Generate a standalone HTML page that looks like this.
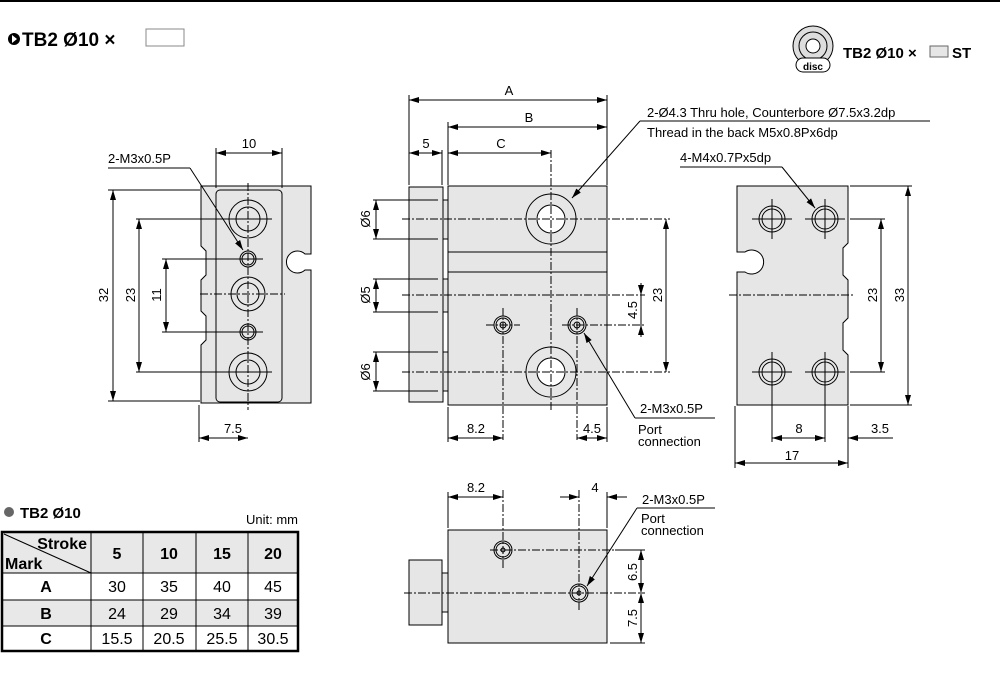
<!DOCTYPE html>
<html><head><meta charset="utf-8"><style>
body{margin:0;background:#fff;}
svg{display:block;font-family:"Liberation Sans",sans-serif;}
</style></head><body>
<svg width="1000" height="688" viewBox="0 0 1000 688" xmlns="http://www.w3.org/2000/svg">
<defs>
<marker id="a" viewBox="0 0 10 6" refX="10" refY="3" markerWidth="10" markerHeight="6" orient="auto-start-reverse" markerUnits="userSpaceOnUse"><path d="M0,0L10,3L0,6z" fill="#000"/></marker>
</defs>
<line x1="0" y1="1" x2="1000" y2="1" stroke="#000" stroke-width="2"/>
<!-- title -->
<circle cx="14" cy="39" r="6" fill="#000"/><path d="M12,35L17,39L12,43z" fill="#fff"/>
<text x="22" y="46" font-size="19" font-weight="bold">TB2 Ø10 ×</text>
<rect x="146" y="29" width="38" height="17" fill="#fff" stroke="#888"/>
<!-- logo -->
<g stroke="#000" fill="none">
<circle cx="813" cy="46" r="20" fill="#ddd"/><circle cx="813" cy="46" r="14"/><circle cx="813" cy="46" r="7" fill="#fff"/>
<rect x="796" y="58" width="34" height="14" rx="7" fill="#fff"/>
</g>
<text x="813" y="70" font-size="10" font-weight="bold" text-anchor="middle">disc</text>
<text x="843" y="58" font-size="15" font-weight="bold">TB2 Ø10 ×</text>
<rect x="930" y="46" width="18" height="11" fill="#e6e6e6" stroke="#666"/>
<text x="952" y="58" font-size="15" font-weight="bold">ST</text>

<g stroke="#000" stroke-width="1" fill="none" font-size="13">
<!-- LEFT VIEW -->
<path d="M201,186H311V254L305,254A11,11 0 1 0 305,270L311,270V403H201V345L206,340V316L201,311V280L206,275V251L201,246Z" fill="#e6e6e6"/>
<rect x="216" y="190" width="66" height="212" rx="4"/>
<g stroke-dasharray="8,2,2,2"><line x1="248" y1="183" x2="248" y2="410"/><line x1="200" y1="294" x2="285" y2="294"/></g>
<circle cx="248" cy="219" r="19"/><circle cx="248" cy="219" r="12"/>
<circle cx="248" cy="294" r="17"/><circle cx="248" cy="294" r="11"/>
<circle cx="248" cy="372" r="19"/><circle cx="248" cy="372" r="12"/>
<circle cx="248" cy="259" r="8"/><circle cx="248" cy="259" r="6"/>
<circle cx="248" cy="332" r="8"/><circle cx="248" cy="332" r="6"/>
<line x1="216" y1="148" x2="216" y2="188"/><line x1="282" y1="148" x2="282" y2="188"/>
<line x1="216" y1="153" x2="282" y2="153" marker-start="url(#a)" marker-end="url(#a)"/>
<line x1="108" y1="168" x2="190" y2="168"/><line x1="190" y1="168" x2="243" y2="250" marker-end="url(#a)"/>
<line x1="108" y1="190" x2="200" y2="190"/><line x1="108" y1="401" x2="200" y2="401"/>
<line x1="113" y1="190" x2="113" y2="401" marker-start="url(#a)" marker-end="url(#a)"/>
<line x1="136" y1="219" x2="272" y2="219"/><line x1="136" y1="372" x2="272" y2="372"/>
<line x1="139" y1="219" x2="139" y2="372" marker-start="url(#a)" marker-end="url(#a)"/>
<line x1="162" y1="259" x2="263" y2="259"/><line x1="162" y1="332" x2="263" y2="332"/>
<line x1="166" y1="259" x2="166" y2="332" marker-start="url(#a)" marker-end="url(#a)"/>
<line x1="199" y1="405" x2="199" y2="442"/>
<line x1="199" y1="438" x2="248" y2="438" marker-start="url(#a)" marker-end="url(#a)"/>

<!-- MIDDLE VIEW -->
<rect x="409" y="187" width="34" height="215" fill="#e6e6e6"/>
<rect x="443" y="200" width="5" height="39" fill="#e6e6e6"/><rect x="443" y="279" width="5" height="33" fill="#e6e6e6"/><rect x="443" y="352" width="5" height="39" fill="#e6e6e6"/>
<rect x="448" y="186" width="159" height="219" fill="#e6e6e6"/>
<line x1="448" y1="252" x2="607" y2="252"/><line x1="448" y1="272" x2="607" y2="272"/>
<circle cx="551" cy="219" r="25"/><circle cx="551" cy="219" r="14" fill="#fff"/>
<circle cx="551" cy="372" r="25"/><circle cx="551" cy="372" r="14" fill="#fff"/>
<circle cx="503" cy="325" r="9"/><circle cx="503" cy="325" r="7"/><circle cx="503" cy="325" r="3"/>
<circle cx="577" cy="325" r="9"/><circle cx="577" cy="325" r="7"/><circle cx="577" cy="325" r="3"/>
<g stroke-dasharray="8,2,2,2">
<line x1="402" y1="219" x2="670" y2="219"/><line x1="402" y1="295" x2="645" y2="295"/><line x1="402" y1="372" x2="670" y2="372"/>
<line x1="551" y1="150" x2="551" y2="410"/>
<line x1="486" y1="325" x2="520" y2="325"/><line x1="562" y1="325" x2="645" y2="325"/>
<line x1="503" y1="308" x2="503" y2="440"/><line x1="577" y1="308" x2="577" y2="440"/>
</g>
<line x1="373" y1="200" x2="438" y2="200"/><line x1="373" y1="239" x2="438" y2="239"/>
<line x1="376" y1="200" x2="376" y2="239" marker-start="url(#a)" marker-end="url(#a)"/>
<line x1="373" y1="279" x2="438" y2="279"/><line x1="373" y1="312" x2="438" y2="312"/>
<line x1="376" y1="279" x2="376" y2="312" marker-start="url(#a)" marker-end="url(#a)"/>
<line x1="373" y1="352" x2="438" y2="352"/><line x1="373" y1="391" x2="438" y2="391"/>
<line x1="376" y1="352" x2="376" y2="391" marker-start="url(#a)" marker-end="url(#a)"/>
<line x1="409" y1="95" x2="409" y2="185"/><line x1="607" y1="95" x2="607" y2="185"/>
<line x1="448" y1="122" x2="448" y2="185"/><line x1="442" y1="150" x2="442" y2="185"/>
<line x1="409" y1="100" x2="607" y2="100" marker-start="url(#a)" marker-end="url(#a)"/>
<line x1="448" y1="127" x2="607" y2="127" marker-start="url(#a)" marker-end="url(#a)"/>
<line x1="448" y1="153" x2="551" y2="153" marker-start="url(#a)" marker-end="url(#a)"/>
<line x1="409" y1="153" x2="442" y2="153" marker-start="url(#a)" marker-end="url(#a)"/>
<line x1="666" y1="219" x2="666" y2="372" marker-start="url(#a)" marker-end="url(#a)"/>
<line x1="641" y1="283" x2="641" y2="295" marker-end="url(#a)"/><line x1="641" y1="337" x2="641" y2="325" marker-end="url(#a)"/><line x1="641" y1="295" x2="641" y2="325"/>
<line x1="448" y1="407" x2="448" y2="442"/><line x1="607" y1="407" x2="607" y2="442"/>
<line x1="448" y1="438" x2="503" y2="438" marker-start="url(#a)" marker-end="url(#a)"/>
<line x1="577" y1="438" x2="607" y2="438" marker-start="url(#a)" marker-end="url(#a)"/>
<line x1="640" y1="121" x2="930" y2="121"/><line x1="640" y1="121" x2="572" y2="198" marker-end="url(#a)"/>
<line x1="635" y1="418" x2="715" y2="418"/><line x1="635" y1="418" x2="584" y2="333" marker-end="url(#a)"/>

<!-- RIGHT VIEW -->
<path d="M737,186H848V243L843,248V275L848,280V318L843,323V350L848,355V405H737V272L745,272A12,12 0 1 0 745,252L737,252Z" fill="#e6e6e6"/>
<line x1="729" y1="295" x2="855" y2="295" stroke-dasharray="8,2,2,2"/>
<g>
<circle cx="772" cy="219" r="13"/><circle cx="772" cy="219" r="10"/><circle cx="825" cy="219" r="13"/><circle cx="825" cy="219" r="10"/>
<circle cx="772" cy="372" r="13"/><circle cx="772" cy="372" r="10"/><circle cx="825" cy="372" r="13"/><circle cx="825" cy="372" r="10"/>
<path d="M752,219h40M772,199v40M805,219h40M825,199v40M752,372h40M772,352v40M805,372h40M825,352v40"/>
</g>
<line x1="850" y1="219" x2="885" y2="219"/><line x1="850" y1="372" x2="885" y2="372"/>
<line x1="881" y1="219" x2="881" y2="372" marker-start="url(#a)" marker-end="url(#a)"/>
<line x1="850" y1="186" x2="912" y2="186"/><line x1="850" y1="405" x2="912" y2="405"/>
<line x1="908" y1="186" x2="908" y2="405" marker-start="url(#a)" marker-end="url(#a)"/>
<line x1="772" y1="392" x2="772" y2="442"/><line x1="825" y1="392" x2="825" y2="442"/>
<line x1="735" y1="406" x2="735" y2="468"/><line x1="848" y1="406" x2="848" y2="468"/>
<line x1="772" y1="438" x2="825" y2="438" marker-start="url(#a)" marker-end="url(#a)"/>
<line x1="893" y1="438" x2="848" y2="438" marker-end="url(#a)"/>
<line x1="735" y1="463" x2="848" y2="463" marker-start="url(#a)" marker-end="url(#a)"/>
<line x1="680" y1="167" x2="782" y2="167"/><line x1="782" y1="167" x2="815" y2="208" marker-end="url(#a)"/>

<!-- BOTTOM VIEW -->
<rect x="409" y="560" width="33" height="65" fill="#e6e6e6"/>
<rect x="442" y="573" width="6" height="39" fill="#e6e6e6"/>
<rect x="448" y="530" width="159" height="113" fill="#e6e6e6"/>
<circle cx="503" cy="550" r="9"/><circle cx="503" cy="550" r="7"/><circle cx="503" cy="550" r="2"/>
<circle cx="579" cy="593" r="9"/><circle cx="579" cy="593" r="7"/><circle cx="579" cy="593" r="2"/>
<g stroke-dasharray="8,2,2,2">
<line x1="404" y1="593" x2="645" y2="593"/><line x1="490" y1="550" x2="645" y2="550"/>
<line x1="503" y1="490" x2="503" y2="568"/><line x1="579" y1="490" x2="579" y2="610"/>
</g>
<line x1="448" y1="492" x2="448" y2="528"/><line x1="607" y1="492" x2="607" y2="528"/>
<line x1="448" y1="497" x2="503" y2="497" marker-start="url(#a)" marker-end="url(#a)"/>
<line x1="560" y1="497" x2="579" y2="497" marker-end="url(#a)"/><line x1="627" y1="497" x2="607" y2="497" marker-end="url(#a)"/>
<line x1="615" y1="550" x2="645" y2="550"/><line x1="610" y1="643" x2="645" y2="643"/>
<line x1="641" y1="550" x2="641" y2="593" marker-start="url(#a)" marker-end="url(#a)"/>
<line x1="641" y1="593" x2="641" y2="643" marker-start="url(#a)" marker-end="url(#a)"/>
<line x1="637" y1="508" x2="715" y2="508"/><line x1="637" y1="508" x2="587" y2="586" marker-end="url(#a)"/>
</g>

<!-- texts -->
<g font-size="13" fill="#000" text-anchor="middle">
<text x="249" y="148">10</text>
<text x="233" y="433">7.5</text>
<text x="108" y="295" transform="rotate(-90 108 295)">32</text>
<text x="135" y="295" transform="rotate(-90 135 295)">23</text>
<text x="161" y="295" transform="rotate(-90 161 295)">11</text>
<text x="509" y="95">A</text><text x="529" y="122">B</text><text x="501" y="148">C</text><text x="426" y="148">5</text>
<text x="370" y="219" transform="rotate(-90 370 219)">Ø6</text>
<text x="370" y="295" transform="rotate(-90 370 295)">Ø5</text>
<text x="370" y="372" transform="rotate(-90 370 372)">Ø6</text>
<text x="662" y="295" transform="rotate(-90 662 295)">23</text>
<text x="637" y="310" transform="rotate(-90 637 310)">4.5</text>
<text x="476" y="433">8.2</text><text x="592" y="433">4.5</text>
<text x="877" y="295" transform="rotate(-90 877 295)">23</text>
<text x="904" y="295" transform="rotate(-90 904 295)">33</text>
<text x="799" y="433">8</text><text x="880" y="433">3.5</text><text x="792" y="460">17</text>
<text x="476" y="492">8.2</text><text x="595" y="492">4</text>
<text x="637" y="572" transform="rotate(-90 637 572)">6.5</text>
<text x="637" y="618" transform="rotate(-90 637 618)">7.5</text>
</g>
<g font-size="13" fill="#000">
<text x="108" y="163">2-M3x0.5P</text>
<text x="647" y="117">2-Ø4.3 Thru hole, Counterbore Ø7.5x3.2dp</text>
<text x="647" y="137">Thread in the back M5x0.8Px6dp</text>
<text x="680" y="162">4-M4x0.7Px5dp</text>
<text x="640" y="413">2-M3x0.5P</text>
<text x="638" y="434">Port</text><text x="638" y="446">connection</text>
<text x="642" y="504">2-M3x0.5P</text>
<text x="641" y="523">Port</text><text x="641" y="535">connection</text>
</g>

<!-- TABLE -->
<circle cx="9" cy="512" r="5" fill="#666"/>
<text x="20" y="518" font-size="15" font-weight="bold">TB2 Ø10</text>
<text x="298" y="524" font-size="13" text-anchor="end">Unit: mm</text>
<rect x="2" y="532" width="296" height="41" fill="#e8e8e8"/>
<rect x="2" y="600" width="296" height="26" fill="#e8e8e8"/>
<g stroke="#000" fill="none">
<line x1="2" y1="573" x2="298" y2="573"/><line x1="2" y1="600" x2="298" y2="600"/><line x1="2" y1="626" x2="298" y2="626"/>
<line x1="91" y1="532" x2="91" y2="651"/><line x1="143" y1="532" x2="143" y2="651"/><line x1="196" y1="532" x2="196" y2="651"/><line x1="248" y1="532" x2="248" y2="651"/>
<line x1="4" y1="534" x2="91" y2="573"/>
<rect x="2" y="532" width="296" height="119" stroke-width="2.5"/>
</g>
<g font-size="16" font-weight="bold">
<text x="87" y="549" text-anchor="end">Stroke</text><text x="5" y="569">Mark</text>
</g>
<g font-size="16" text-anchor="middle">
<g font-weight="bold"><text x="117" y="559">5</text><text x="169" y="559">10</text><text x="222" y="559">15</text><text x="273" y="559">20</text>
<text x="46" y="592">A</text><text x="46" y="619">B</text><text x="46" y="644">C</text></g>
<text x="117" y="592">30</text><text x="169" y="592">35</text><text x="222" y="592">40</text><text x="273" y="592">45</text>
<text x="117" y="619">24</text><text x="169" y="619">29</text><text x="222" y="619">34</text><text x="273" y="619">39</text>
<text x="117" y="644">15.5</text><text x="169" y="644">20.5</text><text x="222" y="644">25.5</text><text x="273" y="644">30.5</text>
</g>
</svg>
</body></html>
